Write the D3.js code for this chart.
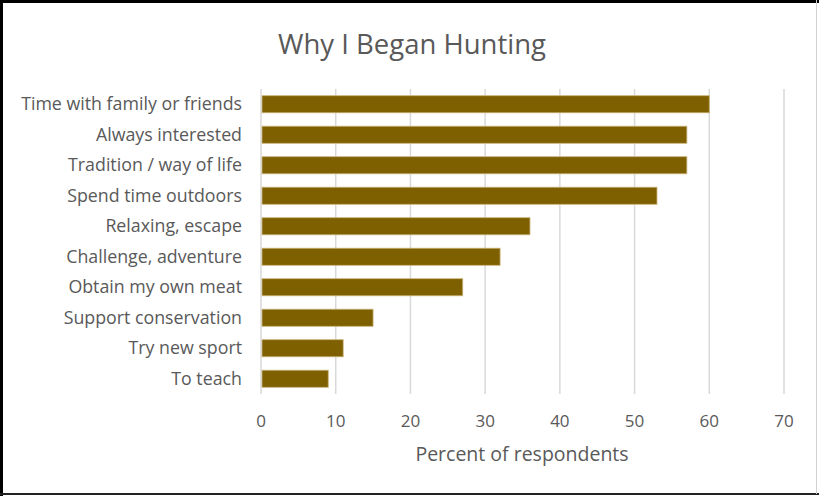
<!DOCTYPE html>
<html><head><meta charset="utf-8">
<script src="https://cdn.jsdelivr.net/npm/d3@7"></script>
<style>body{margin:0;background:#fff;} svg{display:block;}</style>
</head><body>
<script>
const categories = ["Time with family or friends","Always interested","Tradition / way of life","Spend time outdoors","Relaxing, escape","Challenge, adventure","Obtain my own meat","Support conservation","Try new sport","To teach"];
const values = [60,57,57,53,36,32,27,15,11,9];
const xTicks = [0,10,20,30,40,50,60,70];
const title = "Why I Began Hunting";
const xTitle = "Percent of respondents";

const W=819,H=496;
const svg=d3.select("body").append("svg").attr("width",W).attr("height",H);
svg.append("rect").attr("width",W).attr("height",H).attr("fill","#fff");
const font="'Open Sans', sans-serif";
const grey="#595959";
const x=d3.scaleLinear().domain([0,70]).range([261,784]);
const y=d3.scaleBand().domain(categories).range([89,394]).paddingInner(0.44).paddingOuter(0.22);

svg.append("g").selectAll("line").data(xTicks).join("line")
  .attr("x1",d=>x(d)).attr("x2",d=>x(d)).attr("y1",89).attr("y2",394)
  .attr("stroke","#d9d9d9").attr("stroke-width",1.5);

svg.append("g").selectAll("rect").data(values).join("rect")
  .attr("x",x(0)+1).attr("y",(d,i)=>y(categories[i]))
  .attr("width",d=>x(d)-x(0)-1).attr("height",y.bandwidth())
  .attr("fill","#7f6000").attr("stroke","#c9b27a").attr("stroke-width",0.8);

svg.append("g").selectAll("text").data(categories).join("text")
  .attr("x",242).attr("y",d=>y(d)+y.bandwidth()/2).attr("dy","0.35em")
  .attr("text-anchor","end").attr("font-family",font).attr("font-size",17.8).attr("fill",grey).text(d=>d);

svg.append("g").selectAll("text").data(xTicks).join("text")
  .attr("x",d=>x(d)).attr("y",421).attr("dy","0.35em")
  .attr("text-anchor","middle").attr("font-family",font).attr("font-size",17).attr("fill",grey).text(d=>d);

svg.append("text").attr("x",522).attr("y",454).attr("dy","0.35em").attr("text-anchor","middle")
  .attr("font-family",font).attr("font-size",19.5).attr("fill",grey).text(xTitle);
svg.append("text").attr("x",412).attr("y",44).attr("dy","0.35em").attr("text-anchor","middle")
  .attr("font-family",font).attr("font-size",27.5).attr("fill",grey).text(title);

// frame
svg.append("line").attr("x1",0).attr("x2",W).attr("y1",1.5).attr("y2",1.5).attr("stroke","#000").attr("stroke-width",3);
svg.append("line").attr("x1",1.5).attr("x2",1.5).attr("y1",0).attr("y2",H).attr("stroke","#000").attr("stroke-width",3);
svg.append("line").attr("x1",0).attr("x2",W).attr("y1",494).attr("y2",494).attr("stroke","#222").attr("stroke-width",2);
svg.append("line").attr("x1",816.5).attr("x2",816.5).attr("y1",0).attr("y2",494).attr("stroke","#d0d0d0").attr("stroke-width",1);
</script>
</body></html>
